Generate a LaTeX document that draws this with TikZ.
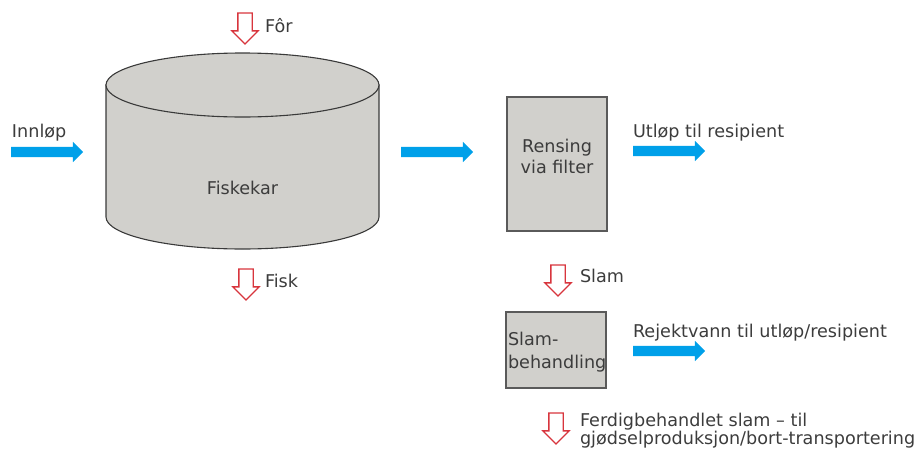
\documentclass[tikz,border=0pt]{standalone}
\usepackage{fontspec}
\setmainfont{DejaVu Sans}
\usetikzlibrary{shapes.arrows}
\definecolor{txt}{HTML}{3C3C3C}
\definecolor{boxfill}{HTML}{D1D0CC}
\definecolor{boxline}{HTML}{5A5A5A}
\definecolor{tankline}{HTML}{3A3A3A}
\definecolor{flow}{HTML}{00A0E9}
\definecolor{redarr}{HTML}{D8353D}
\begin{document}
\begin{tikzpicture}[x=1pt,y=-1pt,
  lbl/.style={font=\fontsize{17.6}{19}\selectfont, text=txt, inner sep=0pt, outer sep=0pt, anchor=base west},
  flowarrow/.style={single arrow, fill=flow, draw=none, minimum width=20pt,
    single arrow head extend=5pt, minimum height=72pt, inner sep=0pt, outer sep=0pt, anchor=west,
    execute at begin node={\rule{0pt}{10pt}}},
  hollow/.style={single arrow, draw=redarr, fill=white, line width=1.3pt, minimum width=26pt,
    single arrow head extend=6pt, minimum height=31pt, inner sep=0pt, outer sep=0pt, rotate=-90, anchor=west,
    execute at begin node={\rule{0pt}{13pt}}},
  proc/.style={draw=boxline, fill=boxfill, line width=1.3pt, inner sep=0pt},
  tank/.style={draw=tankline, fill=boxfill, line width=1.1pt}]
\useasboundingbox (0,0) rectangle (918,450);

% fish tank (cylinder)
\filldraw[tank] (106,85) -- (106,217)
  arc[start angle=180, end angle=360, x radius=136.5pt, y radius=32pt] -- (379,85) -- cycle;
\filldraw[tank] (242.5,85) ellipse[x radius=136.5pt, y radius=32pt];
\node[lbl, anchor=base] (tanklbl) at (242.5,194) {Fiskekar};

% feed
\node[hollow] (forarr) at (245,13) {};
\node[lbl] (forlbl) at (265,32) {Fôr};
% fish out
\node[hollow] (fiskarr) at (246,269) {};
\node[lbl] (fisklbl) at (265,287) {Fisk};

% inlet
\node[flowarrow] (innarr) at (11,152) {};
\node[lbl] (innlbl) at (12,137) {Innløp};

% to filter
\node[flowarrow] (midarr) at (401,152) {};

% filter box
\node[proc, minimum width=100pt, minimum height=134pt] (filter) at (557,164) {};
\node[lbl, anchor=base] (rens1) at (557,152) {Rensing};
\node[lbl, anchor=base] (rens2) at (557,173) {via filter};

% outlet
\node[flowarrow] (utarr) at (633,151) {};
\node[lbl] (utlbl) at (633,137) {Utløp til resipient};

% sludge
\node[hollow] (slamarr) at (558,265) {};
\node[lbl] (slamlbl) at (580,282) {Slam};

% sludge treatment box
\node[proc, minimum width=100pt, minimum height=76pt] (slambox) at (556,350) {};
\node[lbl] (slam1) at (508,345) {Slam-};
\node[lbl] (slam2) at (508,368) {behandling};

% reject water
\node[flowarrow] (rejarr) at (633,351) {};
\node[lbl] (rejlbl) at (633,337) {Rejektvann til utløp/resipient};

% final sludge
\node[hollow] (ferdarr) at (556,413) {};
\node[lbl] (ferd1) at (580,426) {Ferdigbehandlet slam – til};
\node[lbl] (ferd2) at (580,444) {gjødselproduksjon/bort-transportering};
\end{tikzpicture}
\end{document}
